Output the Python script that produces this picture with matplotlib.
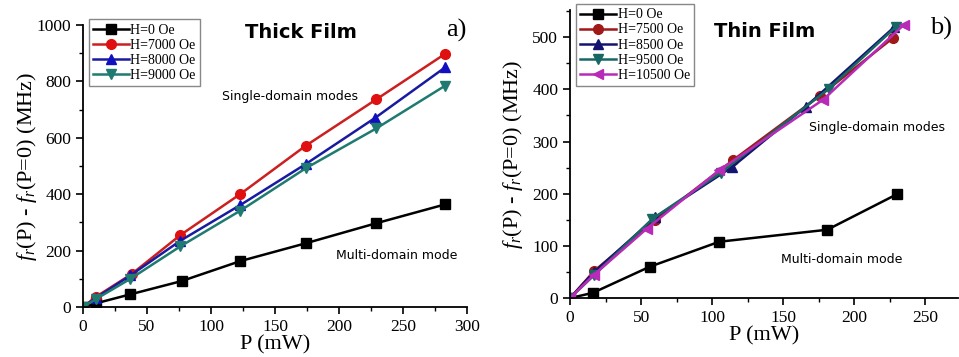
import numpy as np
import matplotlib
matplotlib.use('Agg')
import matplotlib.pyplot as plt
from matplotlib.ticker import MultipleLocator

# thick film (panel a)
thick_x0 = [0, 10, 37, 77, 123, 174, 229, 283]
thick_y0 = [0, 13, 45, 92, 163, 226, 297, 364]
thick_x7000 = [0, 10, 38, 76, 123, 174, 229, 283]
thick_y7000 = [0, 36, 117, 255, 401, 572, 736, 898]
thick_x8000 = [0, 10, 37, 76, 123, 174, 228, 283]
thick_y8000 = [0, 32, 112, 235, 362, 507, 670, 850]
thick_x9000 = [0, 10, 37, 76, 123, 174, 229, 283]
thick_y9000 = [0, 28, 100, 215, 342, 492, 633, 785]

# thin film (panel b)
thin_x0 = [0, 16, 56, 105, 181, 230]
thin_y0 = [0, 10, 60, 108, 131, 199]
thin_x7500 = [0, 17, 60, 115, 176, 227]
thin_y7500 = [0, 52, 150, 265, 388, 498]
thin_x8500 = [0, 17, 60, 114, 166, 228]
thin_y8500 = [0, 50, 155, 251, 367, 519]
thin_x9500 = [0, 17, 58, 106, 182, 229]
thin_y9500 = [0, 44, 152, 240, 401, 519]
thin_x10500 = [0, 17, 54, 105, 178, 235]
thin_y10500 = [0, 45, 133, 245, 380, 524]

serif = 'Liberation Serif'
ylab = r'$\mathit{f}_r$(P) - $\mathit{f}_r$(P=0) (MHz)'
plt.rcParams['mathtext.fontset'] = 'custom'
plt.rcParams['mathtext.rm'] = serif
plt.rcParams['mathtext.it'] = serif + ':italic'


def style_axes(ax, ypad):
    for s in ['top', 'right']:
        ax.spines[s].set_visible(False)
    for s in ['left', 'bottom']:
        ax.spines[s].set_linewidth(1.3)
    ax.tick_params(which='major', length=5, width=1.2, labelsize=12.5)
    ax.tick_params(which='minor', length=3, width=1.0)
    for lbl in ax.get_xticklabels() + ax.get_yticklabels():
        lbl.set_family(serif)
    ax.set_xlabel('P (mW)', family=serif, fontsize=16, labelpad=0)
    ax.set_ylabel(ylab, family=serif, fontsize=16, labelpad=ypad)


def add_legend(ax):
    leg = ax.legend(loc='upper left', bbox_to_anchor=(0.015, 1.02), prop={'family': serif, 'size': 10},
                    handlelength=2.6, handletextpad=0.1, labelspacing=0.15, borderpad=0.3,
                    fancybox=False, framealpha=1, edgecolor='#888888', borderaxespad=0)
    leg.get_frame().set_linewidth(1.0)


fig = plt.figure(figsize=(9.59, 3.57), dpi=100)
kw = dict(lw=1.8, ms=7)

# panel a
ax1 = fig.add_axes([0.0866, 0.140, 0.4004, 0.790])
ax1.plot(thick_x0, thick_y0, 's-', color='black', label='H=0 Oe', **kw)
ax1.plot(thick_x7000, thick_y7000, 'o-', color='#cc1f1f', mec='#e01010', mfc='#e01010', label='H=7000 Oe', **kw)
ax1.plot(thick_x8000, thick_y8000, '^-', color='#1a1aa0', mfc='#1010c0', mec='#1010c0', label='H=8000 Oe', **kw)
ax1.plot(thick_x9000, thick_y9000, 'v-', color='#1f7a70', label='H=9000 Oe', **kw)
ax1.set_xlim(0, 300)
ax1.set_ylim(0, 1000)
ax1.xaxis.set_major_locator(MultipleLocator(50))
ax1.xaxis.set_minor_locator(MultipleLocator(25))
ax1.yaxis.set_major_locator(MultipleLocator(200))
ax1.yaxis.set_minor_locator(MultipleLocator(100))
style_axes(ax1, -2)
ax1.text(170, 975, 'Thick Film', ha='center', va='center', fontsize=14, fontweight='bold', family='DejaVu Sans')
ax1.text(292, 980, 'a)', ha='center', va='center', fontsize=19, family=serif)
ax1.text(162, 745, 'Single-domain modes', ha='center', va='center', fontsize=9, family='DejaVu Sans')
ax1.text(245, 184, 'Multi-domain mode', ha='center', va='center', fontsize=9, family='DejaVu Sans')
add_legend(ax1)

# panel b
ax2 = fig.add_axes([0.5944, 0.165, 0.4046, 0.807])
ax2.plot(thin_x0, thin_y0, 's-', color='black', label='H=0 Oe', **kw)
ax2.plot(thin_x7500, thin_y7500, 'o-', color='#a01818', label='H=7500 Oe', **kw)
ax2.plot(thin_x8500, thin_y8500, '^-', color='#141470', label='H=8500 Oe', **kw)
ax2.plot(thin_x9500, thin_y9500, 'v-', color='#176865', label='H=9500 Oe', **kw)
ax2.plot(thin_x10500, thin_y10500, '<-', color='#b82ab8', label='H=10500 Oe', **kw)
ax2.set_xlim(0, 273)
ax2.set_ylim(0, 552)
ax2.xaxis.set_major_locator(MultipleLocator(50))
ax2.xaxis.set_minor_locator(MultipleLocator(25))
ax2.yaxis.set_major_locator(MultipleLocator(100))
ax2.yaxis.set_minor_locator(MultipleLocator(50))
style_axes(ax2, 5)
ax2.text(137, 510, 'Thin Film', ha='center', va='center', fontsize=14, fontweight='bold', family='DejaVu Sans')
ax2.text(261, 517, 'b)', ha='center', va='center', fontsize=19, family=serif)
ax2.text(216, 326, 'Single-domain modes', ha='center', va='center', fontsize=9, family='DejaVu Sans')
ax2.text(191, 73, 'Multi-domain mode', ha='center', va='center', fontsize=9, family='DejaVu Sans')
add_legend(ax2)

fig.savefig('out.png', dpi=100)
